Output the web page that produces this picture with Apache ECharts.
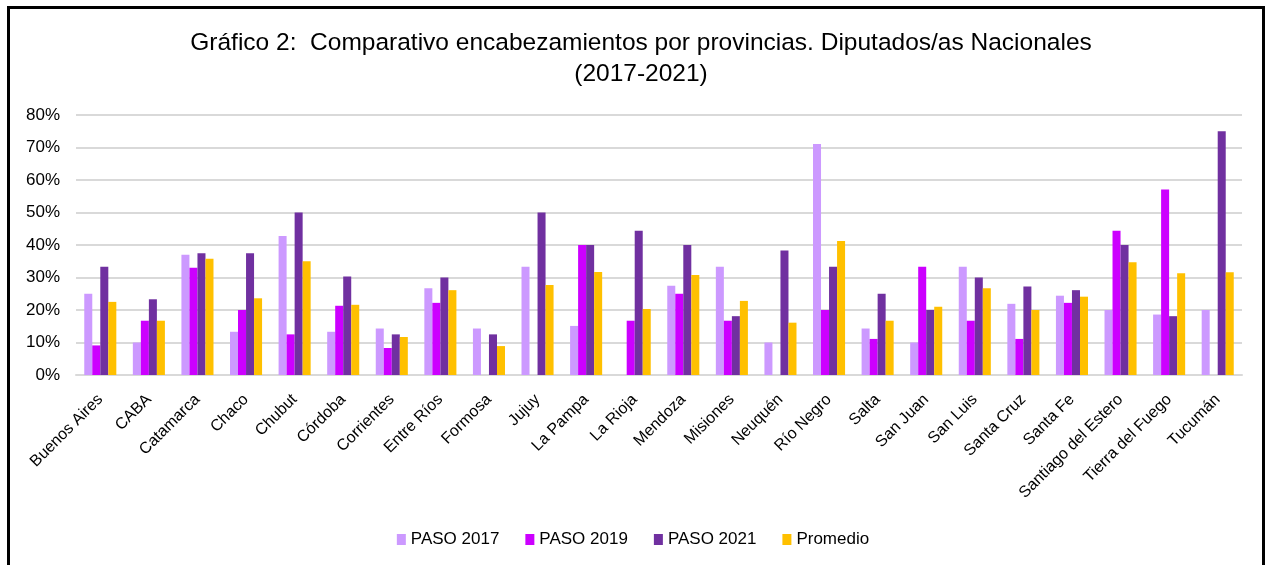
<!DOCTYPE html>
<html>
<head>
<meta charset="utf-8">
<script src="https://cdn.jsdelivr.net/npm/echarts@6/dist/echarts.min.js"></script>
<style>
  html, body { margin: 0; padding: 0; background: #fff; }
  #frame { position: absolute; left: 7px; top: 6px; width: 1258px; height: 600px; border: 3px solid #000; box-sizing: border-box; }
  #chart { position: absolute; left: 0; top: 0; width: 1266px; height: 565px; }
</style>
</head>
<body>
<div id="frame"></div>
<div id="chart"></div>
<script>
// provincias
var provincias = ['Buenos Aires', 'CABA', 'Catamarca', 'Chaco', 'Chubut', 'Córdoba', 'Corrientes', 'Entre Ríos', 'Formosa', 'Jujuy', 'La Pampa', 'La Rioja', 'Mendoza', 'Misiones', 'Neuquén', 'Río Negro', 'Salta', 'San Juan', 'San Luis', 'Santa Cruz', 'Santa Fe', 'Santiago del Estero', 'Tierra del Fuego', 'Tucumán'];

var paso2017 = [25, 10, 37, 13.3, 42.8, 13.3, 14.3, 26.7, 14.3, 33.3, 15.1, 0, 27.5, 33.3, 10, 71.1, 14.3, 10, 33.3, 21.9, 24.4, 20, 18.6, 20];
var paso2019 = [9.1, 16.7, 33, 20, 12.5, 21.3, 8.3, 22.2, 0, 0, 40, 16.7, 25, 16.7, 0, 20, 11.1, 33.3, 16.7, 11.1, 22.2, 44.4, 57.1, 0];
var paso2021 = [33.3, 23.3, 37.5, 37.5, 50, 30.3, 12.5, 30, 12.5, 50, 40, 44.4, 40, 18.1, 38.3, 33.3, 25, 20, 30, 27.2, 26.1, 40, 18.1, 75];
var promedio = [22.5, 16.7, 35.8, 23.6, 35, 21.6, 11.7, 26.1, 8.9, 27.7, 31.7, 20.3, 30.8, 22.8, 16.1, 41.2, 16.7, 21, 26.7, 20, 24.1, 34.7, 31.3, 31.6];

var fuente = "'Liberation Sans Narrow', 'Liberation Sans', Arial, sans-serif";

var chart = echarts.init(document.getElementById('chart'));

function serie(nombre, datos, color) {
  return {
    name: nombre,
    type: 'bar',
    data: datos,
    barGap: '0%',
    barCategoryGap: '34%',
    itemStyle: { color: color }
  };
}

var option = {
  animation: false,
  title: {
    text: 'Gráfico 2:  Comparativo encabezamientos por provincias. Diputados/as Nacionales\n(2017-2021)',
    left: 636,
    top: 23,
    textAlign: 'center',
    textStyle: { fontFamily: fuente, fontSize: 24.5, fontWeight: 'normal', color: '#000', lineHeight: 31 }
  },
  legend: {
    bottom: 12,
    left: 'center',
    itemWidth: 9,
    itemHeight: 11,
    itemGap: 26,
    icon: 'rect',
    textStyle: { fontFamily: fuente, fontSize: 17, color: '#000' }
  },
  grid: { left: 76, right: 24, top: 115, bottom: 190, containLabel: false },
  xAxis: {
    type: 'category',
    data: provincias,
    axisLine: { lineStyle: { color: '#d9d9d9', width: 2 } },
    axisTick: { show: false },
    axisLabel: { interval: 0, rotate: 45, fontFamily: fuente, fontSize: 16, color: '#000', margin: 22 }
  },
  yAxis: {
    type: 'value',
    min: 0,
    max: 80,
    interval: 10,
    axisLabel: { formatter: '{value}%', fontFamily: fuente, fontSize: 17, color: '#000', margin: 16 },
    splitLine: { lineStyle: { color: '#d9d9d9', width: 2 } },
    axisLine: { show: false },
    axisTick: { show: false }
  },
  series: [
    serie('PASO 2017', paso2017, '#cc99ff'),
    serie('PASO 2019', paso2019, '#cc00ff'),
    serie('PASO 2021', paso2021, '#7030a0'),
    serie('Promedio', promedio, '#ffc000')
  ]
};

chart.setOption(option);
</script>
</body>
</html>
